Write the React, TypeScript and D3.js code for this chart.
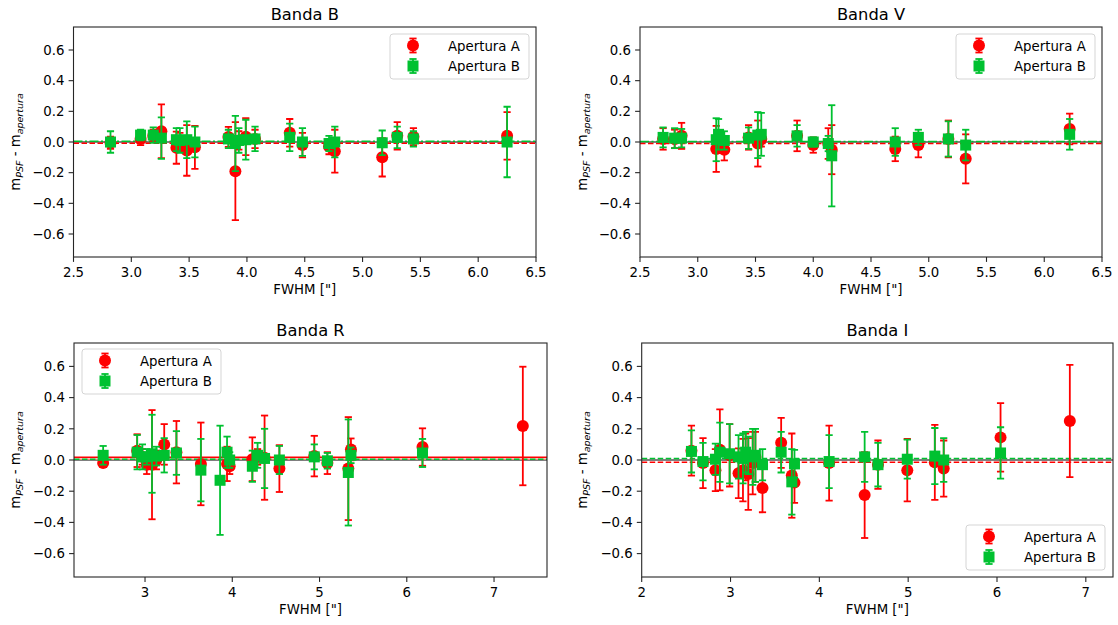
import React from 'react';
import * as d3 from 'd3';

// ---------- DATA ----------
// Banda B
const fwhmB = [2.82, 3.08, 3.19, 3.26, 3.39, 3.42, 3.48, 3.55, 3.84, 3.90, 3.93, 3.99, 4.07, 4.37, 4.48, 4.71, 4.76, 5.17, 5.30, 5.44, 6.25];
const apAB = [-0.005, 0.02, 0.04, 0.07, -0.037, 0.0, -0.055, -0.035, 0.033, -0.19, 0.01, 0.035, 0.02, 0.06, -0.02, -0.03, -0.06, -0.10, 0.04, 0.035, 0.04];
const apAErrB = [0.04, 0.04, 0.04, 0.175, 0.105, 0.06, 0.165, 0.14, 0.065, 0.32, 0.06, 0.12, 0.06, 0.09, 0.08, 0.05, 0.14, 0.125, 0.09, 0.055, 0.155];
const apBB = [0.0, 0.045, 0.045, 0.025, 0.015, 0.01, 0.015, 0.0, 0.02, -0.01, 0.01, 0.015, 0.02, 0.03, 0.0, -0.01, 0.0, -0.005, 0.03, 0.02, 0.0];
const apBErrB = [0.07, 0.035, 0.05, 0.135, 0.075, 0.08, 0.12, 0.1, 0.06, 0.18, 0.08, 0.13, 0.08, 0.09, 0.09, 0.05, 0.1, 0.08, 0.07, 0.05, 0.23];

// Banda V
const fwhmV = [2.70, 2.80, 2.86, 3.16, 3.18, 3.23, 3.44, 3.52, 3.55, 3.86, 4.00, 4.13, 4.16, 4.71, 4.91, 5.17, 5.32, 6.22];
const apAV = [0.02, 0.02, 0.04, -0.045, 0.0, -0.05, 0.03, -0.01, 0.02, 0.04, -0.02, -0.01, -0.05, -0.045, -0.02, 0.02, -0.11, 0.085];
const apAErrV = [0.07, 0.06, 0.085, 0.15, 0.06, 0.07, 0.08, 0.15, 0.05, 0.1, 0.05, 0.1, 0.16, 0.08, 0.08, 0.12, 0.16, 0.1];
const apBV = [0.03, 0.025, 0.025, 0.015, 0.05, 0.01, 0.025, 0.045, 0.05, 0.04, 0.0, -0.01, -0.09, 0.0, 0.03, 0.02, -0.02, 0.05];
const apBErrV = [0.065, 0.065, 0.06, 0.14, 0.1, 0.06, 0.07, 0.15, 0.14, 0.07, 0.03, 0.05, 0.33, 0.09, 0.05, 0.115, 0.1, 0.1];

// Banda R
const fwhmR = [2.52, 2.91, 2.97, 3.02, 3.08, 3.13, 3.22, 3.36, 3.64, 3.86, 3.94, 3.97, 4.23, 4.29, 4.37, 4.54, 4.94, 5.09, 5.33, 5.36, 6.18, 7.33];
const apAR: (number | null)[] = [-0.02, 0.06, 0.02, -0.03, -0.03, 0.0, 0.1, 0.05, -0.025, null, -0.025, -0.04, 0.005, 0.02, 0.015, -0.055, 0.025, -0.02, -0.055, 0.068, 0.083, 0.218];
const apAErrR: (number | null)[] = [0.02, 0.105, 0.05, 0.06, 0.35, 0.06, 0.13, 0.2, 0.265, null, 0.11, 0.05, 0.14, 0.05, 0.27, 0.15, 0.13, 0.07, 0.33, 0.07, 0.12, 0.38];
const apBR: (number | null)[] = [0.03, 0.05, 0.02, 0.02, 0.04, 0.025, 0.03, 0.045, -0.065, -0.13, 0.05, 0.0, -0.04, 0.03, 0.01, 0.0, 0.02, -0.005, -0.08, 0.03, 0.045, null];
const apBErrR: (number | null)[] = [0.06, 0.11, 0.08, 0.05, 0.25, 0.06, 0.11, 0.14, 0.2, 0.35, 0.1, 0.05, 0.1, 0.08, 0.19, 0.09, 0.08, 0.05, 0.34, 0.05, 0.09, null];

// Banda I
const fwhmI = [2.56, 2.69, 2.83, 2.88, 2.99, 3.09, 3.14, 3.17, 3.20, 3.25, 3.28, 3.36, 3.57, 3.69, 3.72, 4.11, 4.51, 4.66, 4.99, 5.30, 5.40, 6.04, 6.82];
const apAI: (number | null)[] = [0.06, -0.02, -0.065, 0.065, 0.03, -0.085, -0.065, 0.02, -0.09, -0.02, 0.02, -0.18, 0.11, -0.1, -0.145, -0.02, -0.225, -0.03, -0.065, -0.015, -0.055, 0.145, 0.25];
const apAErrI: (number | null)[] = [0.16, 0.16, 0.135, 0.26, 0.2, 0.16, 0.2, 0.15, 0.23, 0.2, 0.16, 0.155, 0.16, 0.27, 0.13, 0.24, 0.275, 0.155, 0.2, 0.24, 0.18, 0.22, 0.36];
const apBI: (number | null)[] = [0.055, -0.01, 0.005, 0.05, 0.04, 0.02, 0.01, 0.05, 0.03, 0.02, 0.03, -0.03, 0.05, -0.14, -0.025, -0.01, 0.02, -0.03, 0.005, 0.025, 0.0, 0.045, null];
const apBErrI: (number | null)[] = [0.135, 0.12, 0.1, 0.19, 0.19, 0.14, 0.16, 0.13, 0.12, 0.18, 0.17, 0.1, 0.13, 0.21, 0.09, 0.17, 0.16, 0.14, 0.125, 0.18, 0.14, 0.165, null];

// reference lines (mean offsets)
const meanLinesB = [-0.008, 0.005];
const meanLinesV = [-0.01, 0.003];
const meanLinesR = [0.017, 0.005];
const meanLinesI = [-0.015, 0.01];

const yTicks = [-0.6, -0.4, -0.2, 0.0, 0.2, 0.4, 0.6];
const xTicksB = [2.5, 3.0, 3.5, 4.0, 4.5, 5.0, 5.5, 6.0, 6.5];
const xTicksV = [2.5, 3.0, 3.5, 4.0, 4.5, 5.0, 5.5, 6.0, 6.5];
const xTicksR = [3, 4, 5, 6, 7];
const xTicksI = [2, 3, 4, 5, 6, 7];
const legendLabels = ['Apertura A', 'Apertura B'];

// ---------- STYLE / LAYOUT ----------
const RED = '#ff0000';
const GREEN = '#00c130';
const FONT = 'DejaVu Sans, sans-serif';

type Panel = {
  title: string;
  fwhm: number[];
  a: (number | null)[];
  aErr: (number | null)[];
  b: (number | null)[];
  bErr: (number | null)[];
  xDomain: [number, number];
  xTicks: number[];
  xFmt: (v: number) => string;
  means: number[];
  lineStyle: 'bv' | 'r' | 'i';
  box: { l: number; r: number; t: number; b: number };
  legendPos: 'ur' | 'ul' | 'lr';
  ylabX: number;
};

const panels: Panel[] = [
  { title: 'Banda B', fwhm: fwhmB, a: apAB, aErr: apAErrB, b: apBB, bErr: apBErrB, xDomain: [2.5, 6.5], xTicks: xTicksB, xFmt: d3.format('.1f'), means: meanLinesB, lineStyle: 'bv', box: { l: 73.5, r: 536, t: 27, b: 257 }, legendPos: 'ur', ylabX: 16 },
  { title: 'Banda V', fwhm: fwhmV, a: apAV, aErr: apAErrV, b: apBV, bErr: apBErrV, xDomain: [2.5, 6.5], xTicks: xTicksV, xFmt: d3.format('.1f'), means: meanLinesV, lineStyle: 'bv', box: { l: 640, r: 1102, t: 27, b: 257 }, legendPos: 'ur', ylabX: 583 },
  { title: 'Banda R', fwhm: fwhmR, a: apAR, aErr: apAErrR, b: apBR, bErr: apBErrR, xDomain: [2.186, 7.607], xTicks: xTicksR, xFmt: d3.format('d'), means: meanLinesR, lineStyle: 'r', box: { l: 74, r: 547, t: 343, b: 577 }, legendPos: 'ul', ylabX: 16 },
  { title: 'Banda I', fwhm: fwhmI, a: apAI, aErr: apAErrI, b: apBI, bErr: apBErrI, xDomain: [2.0, 7.306], xTicks: xTicksI, xFmt: d3.format('d'), means: meanLinesI, lineStyle: 'i', box: { l: 641.7, r: 1113, t: 343, b: 577 }, legendPos: 'lr', ylabX: 583 },
];

const fmtY = (v: number) => {
  const s = d3.format('.1f')(Math.abs(v) < 1e-9 ? 0 : v);
  return s.replace('-', '\u2212');
};

function ErrPoint({ x, y, yLo, yHi, color, shape }: { x: number; y: number; yLo: number; yHi: number; color: string; shape: 'c' | 's' }) {
  const cap = 3.6;
  return (
    <g>
      <line x1={x} x2={x} y1={yLo} y2={yHi} stroke={color} strokeWidth={1.8} />
      <line x1={x - cap} x2={x + cap} y1={yLo} y2={yLo} stroke={color} strokeWidth={1.8} />
      <line x1={x - cap} x2={x + cap} y1={yHi} y2={yHi} stroke={color} strokeWidth={1.8} />
      {shape === 'c' ? (
        <circle cx={x} cy={y} r={6} fill={color} />
      ) : (
        <rect x={x - 5.5} y={y - 5.5} width={11} height={11} fill={color} />
      )}
    </g>
  );
}

function Legend({ p }: { p: Panel }) {
  const w = 139, h = 45;
  let lx = 0, ly = 0;
  if (p.legendPos === 'ur') { lx = p.box.r - 7 - w; ly = p.box.t + 7; }
  if (p.legendPos === 'ul') { lx = p.box.l + 8; ly = p.box.t + 6; }
  if (p.legendPos === 'lr') { lx = p.box.r - 8 - w; ly = p.box.b - 7 - h; }
  const rows = [ly + 11.5, ly + 32];
  const mx = lx + 23;
  return (
    <g>
      <rect x={lx} y={ly} width={w} height={h} rx={3} fill="#ffffff" fillOpacity={0.8} stroke="#d5d5d5" strokeWidth={1} />
      {rows.map((ry, i) => (
        <g key={i}>
          <ErrPoint x={mx} y={ry} yLo={ry - 7} yHi={ry + 7} color={i === 0 ? RED : GREEN} shape={i === 0 ? 'c' : 's'} />
          <text x={lx + 58} y={ry + 5} fontSize={13.3} fontFamily={FONT} fill="#000">{legendLabels[i]}</text>
        </g>
      ))}
    </g>
  );
}

function PanelView({ p, idx }: { p: Panel; idx: number }) {
  const { l, r, t, b } = p.box;
  const xs = d3.scaleLinear().domain(p.xDomain).range([l, r]);
  const ys = d3.scaleLinear().domain([-0.75, 0.75]).range([b, t]);
  const clipId = `clip${idx}`;
  const ptsA = p.fwhm.map((f, i) => ({ f, v: p.a[i], e: p.aErr[i] })).filter(d => d.v !== null && d.e !== null) as { f: number; v: number; e: number }[];
  const ptsB = p.fwhm.map((f, i) => ({ f, v: p.b[i], e: p.bErr[i] })).filter(d => d.v !== null && d.e !== null) as { f: number; v: number; e: number }[];
  const [mA, mB] = p.means;
  const yc = (t + b) / 2;
  return (
    <g>
      <defs>
        <clipPath id={clipId}><rect x={l} y={t} width={r - l} height={b - t} /></clipPath>
      </defs>
      <g clipPath={`url(#${clipId})`}>
        <line x1={l} x2={r} y1={ys(0)} y2={ys(0)} stroke="#555" strokeWidth={1.5} />
        {p.lineStyle === 'bv' && (
          <>
            <line x1={l} x2={r} y1={ys(mA)} y2={ys(mA)} stroke={RED} strokeWidth={1.5} strokeDasharray="5.5,2.5" />
            <line x1={l} x2={r} y1={ys(mB)} y2={ys(mB)} stroke={GREEN} strokeWidth={1.5} strokeDasharray="9,2.5,2,2.5" />
          </>
        )}
        {p.lineStyle === 'r' && (
          <>
            <line x1={l} x2={r} y1={ys(mA)} y2={ys(mA)} stroke={RED} strokeWidth={1.5} />
            <line x1={l} x2={r} y1={ys(mB)} y2={ys(mB)} stroke="#f08080" strokeWidth={1.5} />
            <line x1={l} x2={r} y1={ys(mB)} y2={ys(mB)} stroke={GREEN} strokeWidth={1.5} strokeDasharray="5.5,2.5" />
          </>
        )}
        {p.lineStyle === 'i' && (
          <>
            <line x1={l} x2={r} y1={ys(mA)} y2={ys(mA)} stroke={RED} strokeWidth={1.5} strokeDasharray="5.5,2.5" />
            <line x1={l} x2={r} y1={ys(mB)} y2={ys(mB)} stroke={GREEN} strokeWidth={1.5} strokeDasharray="5.5,2.5" />
          </>
        )}
        {ptsA.map((d, i) => (
          <ErrPoint key={'a' + i} x={xs(d.f)} y={ys(d.v)} yLo={ys(d.v - d.e)} yHi={ys(d.v + d.e)} color={RED} shape="c" />
        ))}
        {ptsB.map((d, i) => (
          <ErrPoint key={'b' + i} x={xs(d.f)} y={ys(d.v)} yLo={ys(d.v - d.e)} yHi={ys(d.v + d.e)} color={GREEN} shape="s" />
        ))}
      </g>
      <rect x={l} y={t} width={r - l} height={b - t} fill="none" stroke="#262626" strokeWidth={1.1} />
      {yTicks.map(v => (
        <g key={'y' + v}>
          <line x1={l - 4.9} x2={l} y1={ys(v)} y2={ys(v)} stroke="#262626" strokeWidth={1.1} />
          <text x={l - 9} y={ys(v) + 4.8} textAnchor="end" fontSize={13.3} fontFamily={FONT} fill="#000">{fmtY(v)}</text>
        </g>
      ))}
      {p.xTicks.map(v => (
        <g key={'x' + v}>
          <line x1={xs(v)} x2={xs(v)} y1={b} y2={b + 4.9} stroke="#262626" strokeWidth={1.1} />
          <text x={xs(v)} y={b + 19.5} textAnchor="middle" fontSize={13.3} fontFamily={FONT} fill="#000">{p.xFmt(v)}</text>
        </g>
      ))}
      <text x={(l + r) / 2} y={t - 7.5} textAnchor="middle" fontSize={16.3} fontFamily={FONT} fill="#000">{p.title}</text>
      <text x={(l + r) / 2} y={b + 37} textAnchor="middle" fontSize={13.3} fontFamily={FONT} fill="#000">FWHM ["]</text>
      <text transform={`translate(${p.ylabX + 3.5},${yc}) rotate(-90)`} textAnchor="middle" fontSize={13.3} fontFamily={FONT} fill="#000">
        m<tspan fontSize={9.5} fontStyle="italic" dy={3}>PSF</tspan><tspan dy={-3}> - m</tspan><tspan fontSize={9.5} fontStyle="italic" dy={3}>apertura</tspan>
      </text>
      <Legend p={p} />
    </g>
  );
}

export default function App() {
  return (
    <svg width={1118} height={625} style={{ position: 'absolute', left: 0, top: 0, background: '#fff' }}>
      <rect x={0} y={0} width={1118} height={625} fill="#fff" />
      {panels.map((p, i) => <PanelView key={i} p={p} idx={i} />)}
    </svg>
  );
}
